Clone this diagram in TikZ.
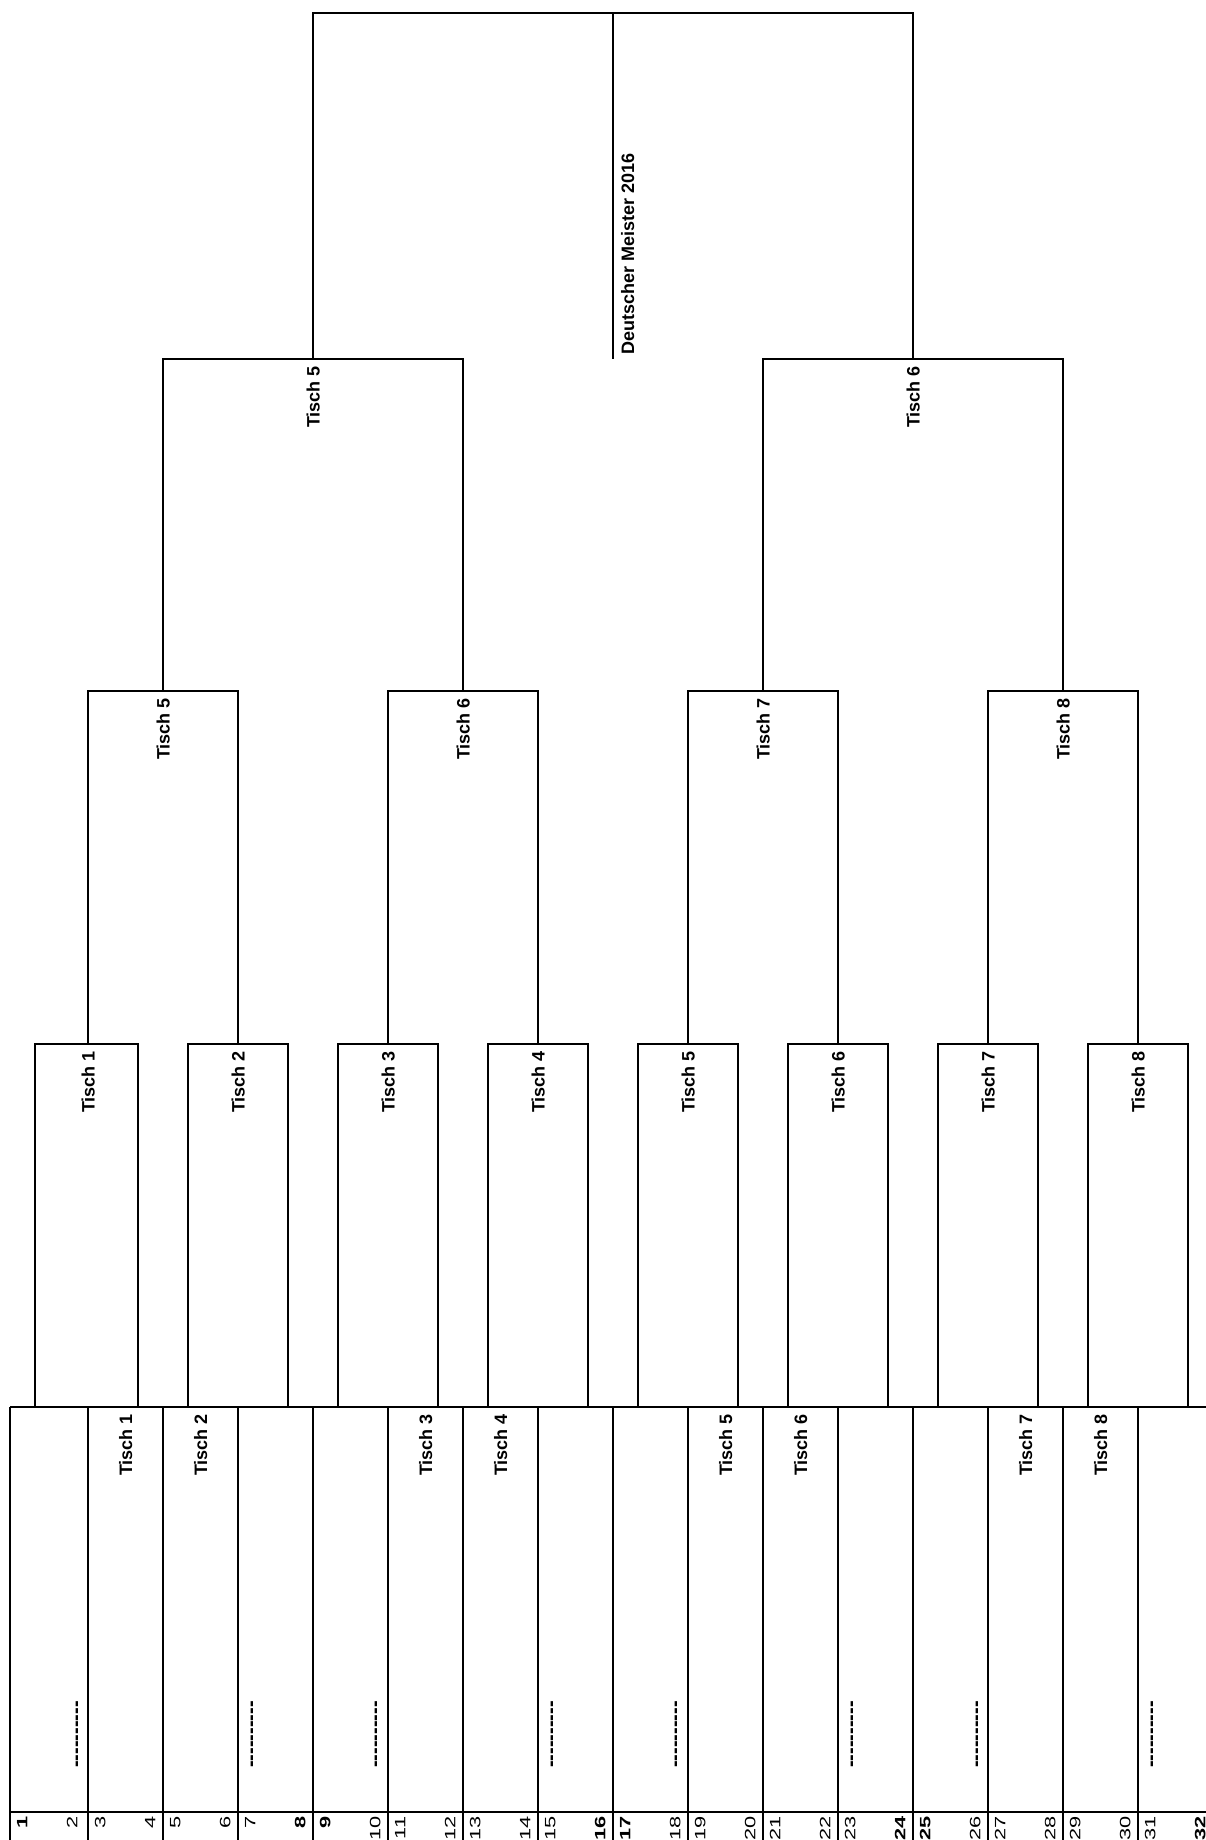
\documentclass[tikz,border=0pt]{standalone}
\usepackage{fontspec}
\setmainfont{Liberation Sans}
\newcommand\dashrow{-\kern0pt-\kern0pt-\kern0pt-\kern0pt-\kern0pt-\kern0pt-\kern0pt-\kern0pt-\kern0pt-}
\begin{document}
\begin{tikzpicture}[x=1pt,y=-1pt,line width=2.2pt,
  lbl/.style={rotate=90,anchor=base east,inner sep=0pt,font=\fontsize{18}{18}\selectfont\bfseries},
  ttl/.style={rotate=90,anchor=base west,inner sep=0pt,font=\fontsize{18}{18}\selectfont\bfseries},
  num/.style={rotate=90,xscale=1.45,anchor=base east,inner sep=0pt,font=\fontsize{15}{15}\selectfont},
  dsh/.style={rotate=90,anchor=base east,inner sep=0pt,font=\fontsize{20}{20}\selectfont\bfseries}]
\useasboundingbox (0,0) rectangle (1206,1840);

% ---------- final ----------
\coordinate (topc) at (613,13);
\coordinate (champ) at (613,359);
\foreach \i in {0,1}{
  \pgfmathtruncatemacro\cx{313+600*\i}
  \coordinate (L2-\i) at (\cx,359);
}
\draw (L2-0) -- (L2-0 |- topc) -- (L2-1 |- topc) -- (L2-1);
\draw (topc) -- (champ);
\node[ttl] (title) at (634,356) {Deutscher Meister 2016};

% ---------- level 3 coordinates ----------
\foreach \j in {0,...,3}{
  \pgfmathtruncatemacro\cx{163+300*\j}
  \coordinate (L3-\j) at (\cx,691);
}
% ---------- level 4 coordinates ----------
\foreach \k in {0,...,7}{
  \pgfmathtruncatemacro\cx{88+150*\k}
  \coordinate (L4-\k) at (\cx,1044);
}

% semifinal brackets
\foreach \i in {0,1}{
  \pgfmathtruncatemacro\a{2*\i}
  \pgfmathtruncatemacro\b{2*\i+1}
  \draw (L3-\a) -- (L3-\a |- L2-\i) -- (L3-\b |- L2-\i) -- (L3-\b);
  \pgfmathtruncatemacro\t{5+\i}
  \node[lbl] (s2-\i) at ([xshift=6.5pt,yshift=-6pt]L2-\i) {Tisch \t};
}
% quarterfinal brackets
\foreach \j in {0,...,3}{
  \pgfmathtruncatemacro\a{2*\j}
  \pgfmathtruncatemacro\b{2*\j+1}
  \draw (L4-\a) -- (L4-\a |- L3-\j) -- (L4-\b |- L3-\j) -- (L4-\b);
  \pgfmathtruncatemacro\t{5+\j}
  \node[lbl] (s3-\j) at ([xshift=6.5pt,yshift=-6pt]L3-\j) {Tisch \t};
}

% ---------- bottom table ----------
\coordinate (tabTL) at (10,1407);
\coordinate (tabTR) at (1206,1407);
\coordinate (tabML) at (10,1812);
\coordinate (tabMR) at (1206,1812);
\coordinate (tabBL) at (10,1840);

% first-round boxes
\foreach \k/\lo in {0/53,1/50,2/50,3/50,4/50,5/50,6/50,7/50}{
  \coordinate (B\k-tl) at ([xshift=-\lo pt]L4-\k);
  \coordinate (B\k-tr) at ([xshift=50pt]L4-\k);
  \draw (B\k-tl |- tabTL) -- (B\k-tl) -- (B\k-tr) -- (B\k-tr |- tabTL);
  \pgfmathtruncatemacro\t{1+\k}
  \node[lbl] (s4-\k) at ([xshift=6.5pt,yshift=-6pt]L4-\k) {Tisch \t};
}

\draw (tabTL) -- (tabTR);
\draw (tabML) -- (tabMR);
\draw (tabTL) -- (tabBL);
\foreach \k in {2,...,16}{
  \pgfmathtruncatemacro\lx{88+75*(\k-2)}
  \coordinate (col\k-t) at (\lx,1407);
  \coordinate (col\k-b) at (\lx,1840);
  \draw (col\k-t) -- (col\k-b);
}

% numbers
\foreach \k/\lx/\wo/\we in {1/10/\bfseries/\mdseries,2/88/\mdseries/\mdseries,3/163/\mdseries/\mdseries,4/238/\mdseries/\bfseries,
  5/313/\bfseries/\mdseries,6/388/\mdseries/\mdseries,7/463/\mdseries/\mdseries,8/538/\mdseries/\bfseries,
  9/613/\bfseries/\mdseries,10/688/\mdseries/\mdseries,11/763/\mdseries/\mdseries,12/838/\mdseries/\bfseries,
  13/913/\bfseries/\mdseries,14/988/\mdseries/\mdseries,15/1063/\mdseries/\mdseries,16/1138/\mdseries/\bfseries}{
  \pgfmathtruncatemacro\no{2*\k-1}
  \pgfmathtruncatemacro\ne{2*\k}
  \node[num] (n\no) at (\lx+17.4,1815) {\wo\no};
  \node[num] (n\ne) at (\lx+67.4,1815) {\we\ne};
}

% player-slot labels in the table
\foreach \x/\t in {125.5/1,200.5/2,425.5/3,500.5/4,725.5/5,800.5/6,1025.5/7,1100.5/8}{
  \node[lbl] (p\t) at (\x+6.5,1413) {Tisch \t};
}
\foreach \x [count=\c] in {77,252,376,552,676,852,977,1152}{
  \node[dsh] (d\c) at (\x+5.2,1700) {\dashrow};
}
\end{tikzpicture}
\end{document}
